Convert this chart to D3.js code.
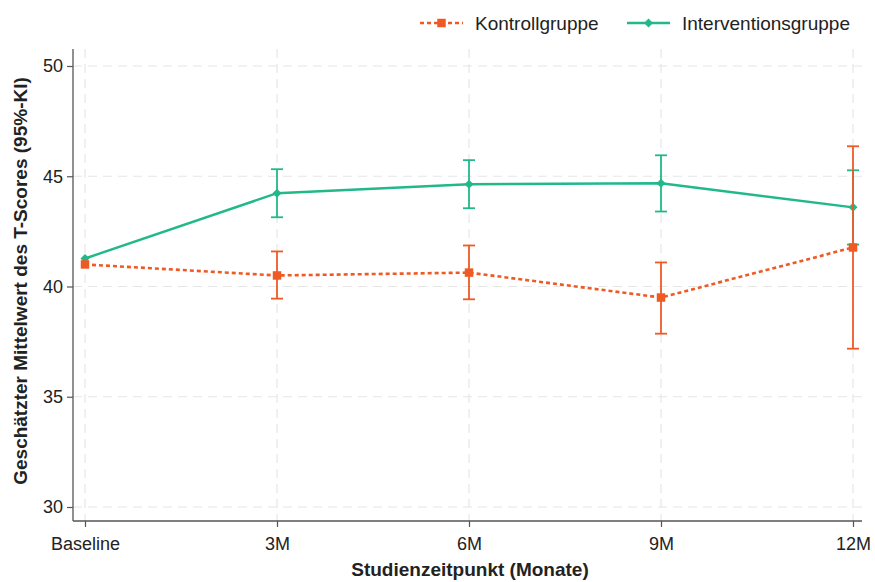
<!DOCTYPE html>
<html>
<head>
<meta charset="utf-8">
<script src="https://cdn.jsdelivr.net/npm/d3@7"></script>
<style>
	body { margin: 0; background: #fff; }
	svg { font-family: "Liberation Sans", Arial, sans-serif; }
</style>
</head>
<body>
<div id="chart"></div>
<script>
// data
const timepoints = ["Baseline", "3M", "6M", "9M", "12M"];
const yTicks = [30, 35, 40, 45, 50];

const kontrollMean = [41.0, 40.5, 40.63, 39.5, 41.77];
const kontrollLower = [null, 39.45, 39.42, 37.86, 37.18];
const kontrollUpper = [null, 41.59, 41.86, 41.09, 46.36];

const interventionMean = [41.27, 44.23, 44.64, 44.68, 43.59];
const interventionLower = [null, 43.14, 43.55, 43.4, 41.9];
const interventionUpper = [null, 45.32, 45.73, 45.95, 45.27];

const width = 875;
const height = 582;
const margin = { top: 49, right: 13, bottom: 61, left: 73 };

const svg = d3
	.select("#chart")
	.append("svg")
	.attr("width", width)
	.attr("height", height);

// scales
const xScale = d3
	.scalePoint()
	.domain(timepoints)
	.range([85, 853]);

const yScale = d3
	.scaleLinear()
	.domain([30, 50])
	.range([507, 66]);

const axisY = height - margin.bottom; // 521

// grid lines
yTicks.forEach((t) => {
	svg.append("line")
		.attr("x1", margin.left)
		.attr("x2", width - margin.right)
		.attr("y1", yScale(t))
		.attr("y2", yScale(t))
		.attr("stroke", "#e6e6e6")
		.attr("stroke-width", 1.2)
		.attr("stroke-dasharray", "9,6");
});
timepoints.forEach((t) => {
	svg.append("line")
		.attr("x1", xScale(t))
		.attr("x2", xScale(t))
		.attr("y1", margin.top)
		.attr("y2", axisY)
		.attr("stroke", "#e6e6e6")
		.attr("stroke-width", 1.2)
		.attr("stroke-dasharray", "9,6");
});

// axes
const xAxis = d3.axisBottom(xScale).tickSize(6).tickPadding(10);
const gx = svg.append("g")
	.attr("transform", `translate(0, ${axisY})`)
	.call(xAxis);
gx.select(".domain").attr("d", `M${margin.left},0H${width - margin.right}`);

const yAxis = d3.axisLeft(yScale).tickValues(yTicks).tickSize(6).tickPadding(4);
const gy = svg.append("g")
	.attr("transform", `translate(${margin.left}, 0)`)
	.call(yAxis);
gy.select(".domain").attr("d", `M0,${margin.top}V${axisY}`);

[gx, gy].forEach((g) => {
	g.selectAll(".domain").attr("stroke", "#555").attr("stroke-width", 1.3);
	g.selectAll(".tick line").attr("stroke", "#555").attr("stroke-width", 1.2);
	g.selectAll(".tick text")
		.attr("fill", "#222")
		.style("font-size", "18px");
});

// axis titles
svg.append("text")
	.attr("x", 470)
	.attr("y", 576)
	.attr("text-anchor", "middle")
	.attr("font-weight", "bold")
	.attr("font-size", "19px")
	.attr("fill", "#222")
	.text("Studienzeitpunkt (Monate)");

svg.append("text")
	.attr("transform", `translate(27, 281) rotate(-90)`)
	.attr("text-anchor", "middle")
	.attr("font-weight", "bold")
	.attr("font-size", "19px")
	.attr("fill", "#222")
	.text("Geschätzter Mittelwert des T-Scores (95%-KI)");

const orange = "#ef5a24";
const green = "#22b88a";

function drawSeries(mean, lower, upper, color, dash, marker) {
	const pts = timepoints.map((t, i) => ({ t: t, m: mean[i], lo: lower[i], hi: upper[i] }));
	// error bars
	pts.filter((d) => d.lo !== null).forEach((d) => {
		const x = xScale(d.t);
		svg.append("line")
			.attr("x1", x).attr("x2", x)
			.attr("y1", yScale(d.lo)).attr("y2", yScale(d.hi))
			.attr("stroke", color).attr("stroke-width", 1.8);
		[d.lo, d.hi].forEach((v) => {
			svg.append("line")
				.attr("x1", x - 6).attr("x2", x + 6)
				.attr("y1", yScale(v)).attr("y2", yScale(v))
				.attr("stroke", color).attr("stroke-width", 1.8);
		});
	});
	// line
	const line = d3.line()
		.x((d) => xScale(d.t))
		.y((d) => yScale(d.m));
	svg.append("path")
		.datum(pts)
		.attr("d", line)
		.attr("fill", "none")
		.attr("stroke", color)
		.attr("stroke-width", dash ? 2.6 : 2.4)
		.attr("stroke-dasharray", dash ? "4,3" : null);
	// markers
	pts.forEach((d) => {
		svg.append("path")
			.attr("transform", `translate(${xScale(d.t)}, ${yScale(d.m)})${marker === "diamond" ? " rotate(45)" : ""}`)
			.attr("d", marker === "diamond" ? d3.symbol(d3.symbolSquare, 40)() : d3.symbol(d3.symbolSquare, 72)())
			.attr("fill", color);
	});
}

drawSeries(interventionMean, interventionLower, interventionUpper, green, false, "diamond");
drawSeries(kontrollMean, kontrollLower, kontrollUpper, orange, true, "square");

// legend
const legend = [
	{ label: "Kontrollgruppe", color: orange, dash: true, marker: "square", x: 420 },
	{ label: "Interventionsgruppe", color: green, dash: false, marker: "diamond", x: 627 },
];
legend.forEach((l) => {
	const g = svg.append("g").attr("transform", `translate(${l.x}, 23)`);
	g.append("line")
		.attr("x1", 0).attr("x2", 43)
		.attr("stroke", l.color)
		.attr("stroke-width", l.dash ? 2.6 : 2.4)
		.attr("stroke-dasharray", l.dash ? "4,3" : null);
	g.append("path")
		.attr("transform", `translate(21.5, 0)${l.marker === "diamond" ? " rotate(45)" : ""}`)
		.attr("d", l.marker === "diamond" ? d3.symbol(d3.symbolSquare, 40)() : d3.symbol(d3.symbolSquare, 72)())
		.attr("fill", l.color);
	g.append("text")
		.attr("x", 55)
		.attr("y", 7)
		.attr("font-size", "19px")
		.attr("fill", "#222")
		.text(l.label);
});
</script>
</body>
</html>
